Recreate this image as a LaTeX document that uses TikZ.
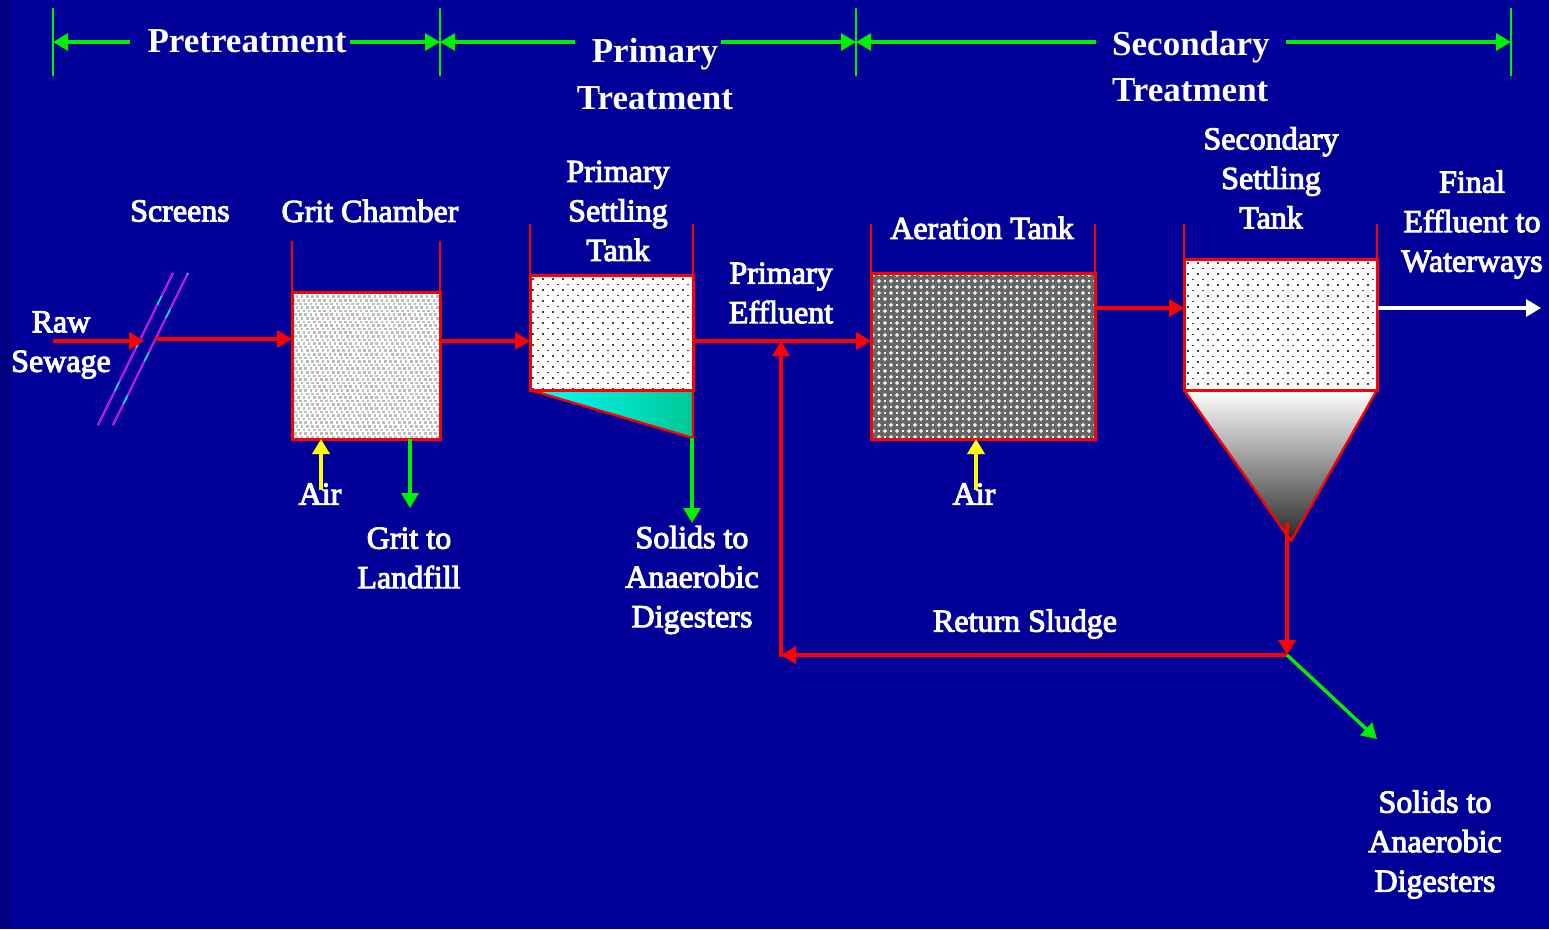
\documentclass[tikz,border=0pt]{standalone}
\usepackage{fontspec}
\setmainfont{Liberation Serif}
\newfontfamily\lblfont[FakeBold=3.2]{Liberation Serif}
\usetikzlibrary{arrows.meta,calc,shadings}
\definecolor{bg}{RGB}{0,0,153}
\definecolor{bgdark}{RGB}{0,0,128}
\definecolor{gr}{RGB}{0,240,0}
\definecolor{rd}{RGB}{255,0,0}
\definecolor{yl}{RGB}{255,255,0}
\definecolor{mg}{RGB}{230,0,230}
\definecolor{cy}{RGB}{0,230,240}
\definecolor{teal1}{RGB}{0,200,150}
\tikzset{
 x=1pt,y=-1pt,
 lbl/.style={text=white,align=center,inner sep=0pt,font=\lblfont\fontsize{32}{39.5}\selectfont},
 head/.style={text=white,inner sep=0pt,font=\fontsize{35}{46.5}\selectfont\bfseries},
 tank/.style={draw=rd,line width=3pt,fill=white,inner sep=0pt,outer sep=0pt,anchor=north west},
 wall/.style={draw=rd,line width=2.2pt},
 tip/.style={-{Triangle[length=15pt,width=17pt]}},
 flow/.style={draw=rd,line width=3.6pt,tip},
 grflow/.style={draw=gr,line width=3.4pt,tip},
 yflow/.style={draw=yl,line width=3.6pt,tip},
 wflow/.style={draw=white,line width=3.2pt,tip},
 tick/.style={draw=gr,line width=2.4pt},
 scr/.style={line width=1.8pt},
}
\begin{document}
\begin{tikzpicture}
\useasboundingbox (0,0) rectangle (1549,929);
\fill[bg] (0,0) rectangle (1549,929);
\fill[bgdark] (0,0) rectangle (11,929);

% tanks
\node[tank,minimum width=148pt,minimum height=147pt] (grit) at (292,292) {};
\node[tank,minimum width=163pt,minimum height=115pt] (prim) at (530,275) {};
\node[tank,minimum width=224pt,minimum height=166pt,fill=black!60] (aer) at (871,273) {};
\node[tank,minimum width=193pt,minimum height=131pt] (sec) at (1184,259) {};

% patterns
\begin{scope}
\clip (grit.north west) rectangle (grit.south east);
\foreach \r in {0,...,41}{\pgfmathsetmacro{\off}{mod(\r,3)*1.75}
 \foreach \c in {0,...,29}{\fill[black!26] ({290+\c*5.2+\off},{293+\r*3.6}) +(-1.3,-1.3) rectangle +(1.3,1.3);}}
\end{scope}
\begin{scope}
\clip (prim.north west) rectangle (prim.south east);
\foreach \r in {0,...,20}{\pgfmathsetmacro{\off}{mod(\r,2)*5}
 \foreach \c in {0,...,16}{\fill[black!75] ({533+\c*10+\off},{279+\r*5.5}) +(-.65,-.65) rectangle +(.65,.65);}}
\end{scope}
\begin{scope}
\clip (sec.north west) rectangle (sec.south east);
\foreach \r in {0,...,25}{\pgfmathsetmacro{\off}{mod(\r,2)*5}
 \foreach \c in {0,...,19}{\fill[black!75] ({1188+\c*10+\off},{263+\r*5.5}) +(-.65,-.65) rectangle +(.65,.65);}}
\end{scope}
\begin{scope}
\clip (aer.north west) rectangle (aer.south east);
\foreach \r in {0,...,28}{\pgfmathsetmacro{\off}{mod(\r,2)*6}
 \foreach \c in {0,...,19}{
  \fill[white] ({873+\c*12+\off},{275+\r*6}) +(-1.9,-.6) rectangle +(1.9,.6) +(-.6,-1.9) rectangle +(.6,1.9);
  \fill[white] ({879+\c*12+\off},{275+\r*6}) +(-.7,-.7) rectangle +(.7,.7);}}
\end{scope}
\draw[rd,line width=3pt] (grit.north west) rectangle (grit.south east);
\draw[rd,line width=3pt] (prim.north west) rectangle (prim.south east);
\draw[rd,line width=3pt] (aer.north west) rectangle (aer.south east);
\draw[rd,line width=3pt] (sec.north west) rectangle (sec.south east);

% walls
\draw[wall] (grit.north west) -- ++(0,-51);
\draw[wall] (grit.north east) -- ++(0,-51);
\draw[wall] (prim.north west) -- ++(0,-51);
\draw[wall] (prim.north east) -- ++(0,-51);
\draw[wall] (aer.north west) -- ++(0,-49);
\draw[wall] (aer.north east) -- ++(0,-49);
\draw[wall] (sec.north west) -- ++(0,-35);
\draw[wall] (sec.north east) -- ++(0,-35);

% hoppers
\coordinate (wedge) at (693,438);
\shade[left color=cyan,right color=teal1] (prim.south west) -- (prim.south east) -- (wedge) -- cycle;
\draw[rd,line width=2.4pt,line join=round] (prim.south west) -- (wedge) -- (prim.south east);
\coordinate (apex) at (1291,541);
\shade[top color=white,bottom color=black!85] (sec.south west) -- (sec.south east) -- (apex) -- cycle;
\draw[rd,line width=2.4pt,line join=round] (sec.south west) -- (apex) -- (sec.south east);
\draw[rd,line width=3pt] (prim.south west) -- (prim.south east);
\draw[rd,line width=3pt] (sec.south west) -- (sec.south east);

% screens
\coordinate (s1a) at (98,425); \coordinate (s1b) at (173,273);
\coordinate (s2a) at (113,425); \coordinate (s2b) at (188,273);
\draw[scr,cy] (s1a) -- (s1b); \draw[scr,cy] (s2a) -- (s2b);
\draw[scr,mg,dash pattern=on 38pt off 10pt] (s1a) -- (s1b);
\draw[scr,mg,dash pattern=on 38pt off 10pt,dash phase=15pt] (s2a) -- (s2b);

% coordinates for flows
\coordinate (rawstart) at (53,341);
\coordinate (rawend) at (144,341);
\coordinate (scrout) at (155,339);
\coordinate (gritout) at (440,341);
\coordinate (mix) at (782,341);
\coordinate (primout) at (693,341);
\coordinate (aerout) at (1095,308);
\coordinate (secout) at (1378,308);
\coordinate (finalend) at (1541,308);
\coordinate (under) at (1287,523);
\coordinate (junction) at (1287,655);
\coordinate (retcorner) at (781,655);
\coordinate (solidsend) at (1377,739);

\draw[flow] (rawstart) -- (rawend);
\draw[flow] (scrout) -- (grit.west |- scrout);
\draw[flow] (gritout) -- (prim.west |- gritout);
\draw[flow] (primout) -- (aer.west |- primout);
\draw[flow] (aerout) -- (sec.west |- aerout);
\draw[wflow] (secout) -- (finalend);
\draw[flow] (under) -- (junction);
\draw[flow] (junction) -- (retcorner);
\draw[flow] ($(retcorner)+(0,1.8)$) -- (retcorner |- mix);
\draw[grflow] (junction) -- (solidsend);

% labels
\node[lbl] (lraw) at (61,345) {Raw\\Sewage};
\node[lbl] (lscr) at (180,211) {Screens};
\node[lbl] (lgrit) at (370,211) {Grit Chamber};
\node[lbl] (lprim) at (618,211) {Primary\\Settling\\Tank};
\node[lbl] (lpe) at (781,293) {Primary\\Effluent};
\node[lbl] (laer) at (982,228) {Aeration Tank};
\node[lbl] (lsec) at (1271,178) {Secondary\\Settling\\Tank};
\node[lbl] (lfin) at (1472,224.5) {Final\\Effluent to\\Waterways};
\node[lbl] (lgl) at (409,558) {Grit to\\Landfill};
\node[lbl] (lsol1) at (692,580) {Solids to\\Anaerobic\\Digesters};
\node[lbl] (lret) at (1025,624) {Return Sludge};
\node[lbl] (lsol2) at (1435,844.5) {Solids to\\Anaerobic\\Digesters};

% side streams
\coordinate (air1s) at (321,490);
\coordinate (air2s) at (976,490);
\coordinate (gritg) at (410,508);
\coordinate (solg) at (692,523);
\draw[yflow] (air1s) -- (air1s |- grit.south);
\draw[yflow] (air2s) -- (air2s |- aer.south);
\draw[grflow] (gritg |- grit.south) -- (gritg);
\draw[grflow] (solg |- wedge) -- (solg);
\node[lbl] (lair1) at (320,494) {Air};
\node[lbl] (lair2) at (974,494) {Air};

% headings
\node[head] (hpre) at (247,41) {Pretreatment};
\node[head,align=center] (hprim) at (655,74) {Primary\\Treatment};
\node[head,align=left,anchor=west] (hsec) at (1112,66.5) {Secondary\\Treatment};

\coordinate (t1) at (53,42);\coordinate (t2) at (440,42);\coordinate (t3) at (856,42);\coordinate (t4) at (1511,42);
\foreach \t in {t1,t2,t3,t4}{\draw[tick] ($(\t)+(0,-34)$) -- ($(\t)+(0,34)$);}
\coordinate (a1) at (130,42);\coordinate (a2) at (350,42);\coordinate (a3) at (575,42);
\coordinate (a4) at (721,42);\coordinate (a5) at (1096,42);\coordinate (a6) at (1286,42);
\draw[grflow] (a1) -- (t1);
\draw[grflow] (a2) -- (t2);
\draw[grflow] (a3) -- (t2);
\draw[grflow] (a4) -- (t3);
\draw[grflow] (a5) -- (t3);
\draw[grflow] (a6) -- (t4);
\end{tikzpicture}
\end{document}
